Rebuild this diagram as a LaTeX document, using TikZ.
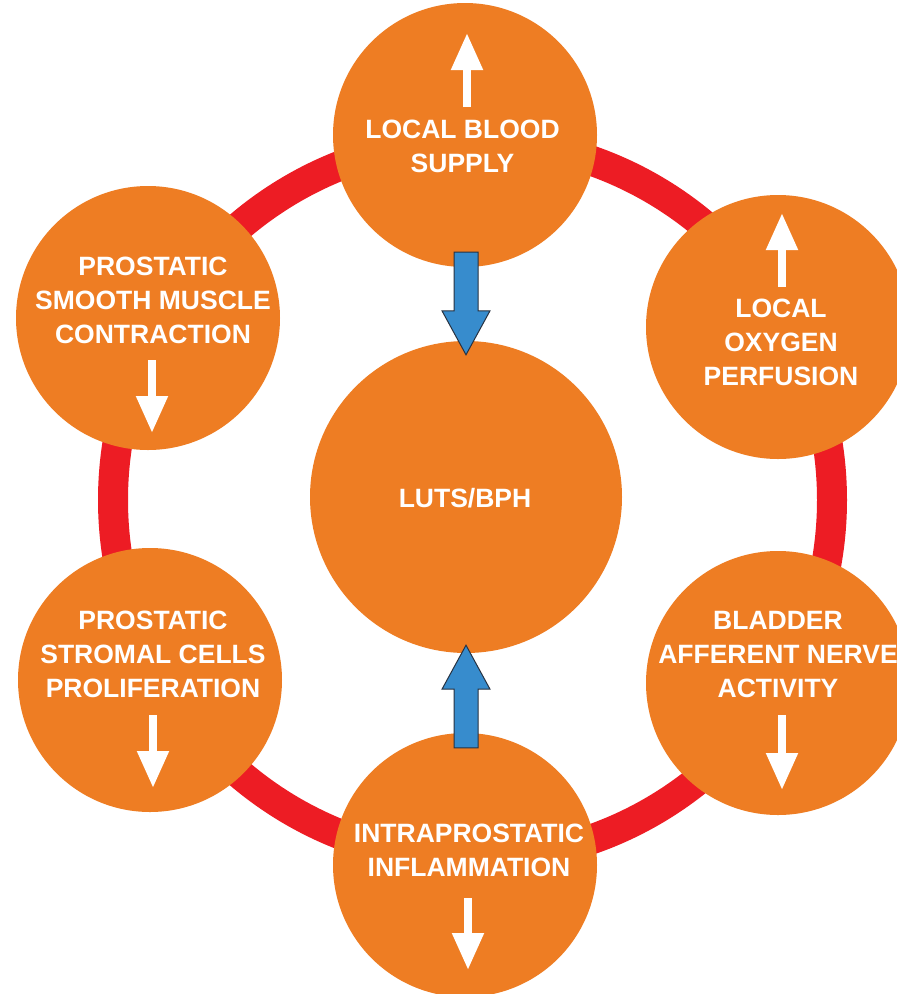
\documentclass[tikz,border=0pt]{standalone}
\usepackage{fontspec}
\setmainfont{Liberation Sans}
\usetikzlibrary{calc,arrows.meta}

\definecolor{circorange}{RGB}{238,125,35}
\definecolor{ringred}{RGB}{237,28,36}
\definecolor{arrowblue}{RGB}{55,140,205}
\definecolor{arrowedge}{RGB}{40,50,65}

\tikzset{
  factorbubble/.style={circle,fill=circorange,minimum size=264pt,inner sep=0pt},
  lbl/.style={text=white,font=\bfseries\fontsize{26.5}{34}\selectfont,align=center,inner sep=0pt},
  trendarrow/.style={draw=white,line width=8pt,-{Triangle[width=30pt,length=37pt]}},
  bluearrow/.style={fill=arrowblue,draw=arrowedge,line width=1pt,line join=miter},
}

% vertical block arrow from #1 to #2
\newcommand{\blockarrow}[2]{%
  \draw[bluearrow] let \p1=(#1), \p2=(#2), \n1={ifthenelse(\y1>\y2,1,-1)} in
    ({\x2-12pt},\y1) -- ({\x2-12pt},{\y2+(\n1)*44pt}) -- ({\x2-24pt},{\y2+(\n1)*44pt})
    -- (\x2,\y2) -- ({\x2+24pt},{\y2+(\n1)*44pt}) -- ({\x2+12pt},{\y2+(\n1)*44pt})
    -- ({\x2+12pt},\y1) -- cycle;}

\begin{document}
\begin{tikzpicture}[x=1pt,y=-1pt]
\path[fill=white,use as bounding box] (0,0) rectangle (897,994);

% the red cycle behind everything
\draw[ringred,line width=30pt] (472.5,500) circle (359.5pt);

\node[factorbubble] (supply) at (465,135) {};
\node[factorbubble] (oxygen) at (778,327) {};
\node[factorbubble] (nerve) at (778,683) {};
\node[factorbubble] (inflam) at (465,865) {};
\node[factorbubble] (stroma) at (150,680) {};
\node[factorbubble] (muscle) at (148,318) {};
\node[factorbubble,minimum size=312pt] (luts) at (466,497) {};

\node[lbl] (supply-txt) at ($(supply)+(-2.5,11)$) {LOCAL BLOOD\\SUPPLY};
\node[lbl] (oxygen-txt) at ($(oxygen)+(3,15)$) {LOCAL\\OXYGEN\\PERFUSION};
\node[lbl] (nerve-txt) at ($(nerve)+(0,-28.5)$) {BLADDER\\AFFERENT NERVE\\ACTIVITY};
\node[lbl] (inflam-txt) at ($(inflam)+(4,-15)$) {INTRAPROSTATIC\\INFLAMMATION};
\node[lbl] (stroma-txt) at ($(stroma)+(3,-25.5)$) {PROSTATIC\\STROMAL CELLS\\PROLIFERATION};
\node[lbl] (muscle-txt) at ($(muscle)+(5,-17.5)$) {PROSTATIC\\SMOOTH MUSCLE\\CONTRACTION};
\node[lbl] (luts-txt) at ($(luts)+(-1,1)$) {LUTS/BPH};

% up / down trends
\draw[trendarrow] ($(supply)+(2,-28)$) -- ($(supply)+(2,-102)$);
\draw[trendarrow] ($(oxygen)+(4,-40)$) -- ($(oxygen)+(4,-114)$);
\draw[trendarrow] ($(nerve)+(4,32)$) -- ($(nerve)+(4,107)$);
\draw[trendarrow] ($(inflam)+(3,33)$) -- ($(inflam)+(3,105)$);
\draw[trendarrow] ($(stroma)+(3,35)$) -- ($(stroma)+(3,108)$);
\draw[trendarrow] ($(muscle)+(4,42)$) -- ($(muscle)+(4,115)$);

% blue arrows into LUTS/BPH
\coordinate (supply-out) at ($(supply.south)+(0,-15)$);
\coordinate (luts-top) at ($(luts.north)+(0,14)$);
\coordinate (inflam-out) at ($(inflam.north)+(0,15)$);
\coordinate (luts-bot) at ($(luts.south)+(0,-8)$);
\blockarrow{supply-out}{luts-top}
\blockarrow{inflam-out}{luts-bot}

\end{tikzpicture}
\end{document}
